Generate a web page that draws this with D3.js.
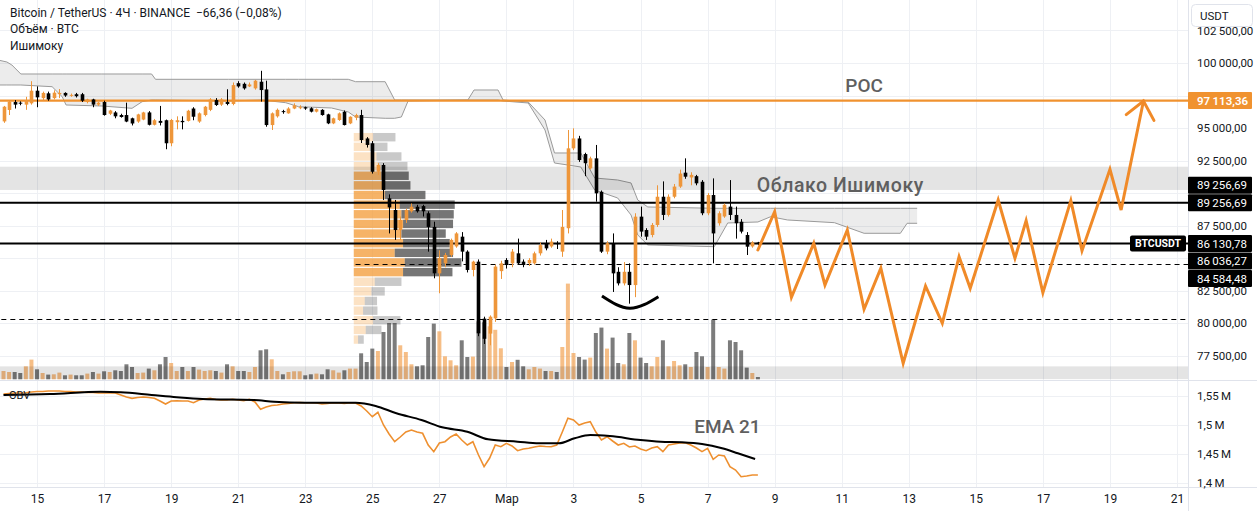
<!DOCTYPE html>
<html>
<head>
<meta charset="utf-8">
<script src="https://cdn.jsdelivr.net/npm/d3@7/dist/d3.min.js"></script>
<style>
html,body{margin:0;padding:0;background:#ffffff;overflow:hidden;}
svg{display:block;font-family:Roboto,"Noto Sans",sans-serif;}
text{white-space:pre;}
</style>
</head>
<body>
<svg id="chart" width="1257" height="511"></svg>
<script>
// ---------------- DATA ----------------
const opens=[95510,96390,97000,96950,96800,96900,97870,97300,97670,97300,
97600,97700,97500,97600,97600,97000,97200,96800,97000,96100,
96200,96000,96000,95750,95500,95650,96200,95250,95550,95600,
93830,95450,95550,95550,96500,95500,96000,96400,97150,96800,
97000,96850,98450,98400,98200,98050,98560,97970,95230,95900,
96300,96130,96500,96550,96600,96520,96260,96400,96050,95360,
95620,96250,95360,95800,96000,94200,93830,91640,92160,89600,
88700,87160,87930,88600,88950,89000,88450,87400,83830,84600,
85240,85900,86650,85500,84090,84730,80350,79200,80370,84000,
84860,84600,85370,84730,84600,84600,85370,86150,85900,86150,
85500,87300,93440,94200,93000,91900,92670,90100,85500,86150,
83950,83060,83950,82930,88190,87160,86780,87550,89720,88320,
89720,90500,91570,91200,91300,90870,88450,89850,87680,88200,
88960,88320,87800,86780,85900,86200];
const highs=[96700,97100,97150,97050,97400,98600,98200,97800,97800,97900,
98000,97750,97650,97700,97700,97250,97250,97000,97100,96400,
96300,96100,96950,95800,96100,96250,96300,95700,96700,95650,
95700,95900,95900,96400,96600,96200,96700,97300,97300,97300,
97980,98500,98600,98500,98500,98700,99400,98640,96200,96500,
96400,96600,96900,96750,96650,96600,96500,96450,96100,95800,
96200,96350,95900,96100,96400,94300,94000,92300,92300,89900,
89470,88200,88800,89200,89100,89100,88600,87800,85600,85400,
86500,87000,87000,85600,84800,84900,80500,80600,84500,84800,
85000,85700,86500,84900,85000,85500,86200,86400,86500,86300,
88700,94850,94980,94400,93100,92800,93700,90200,86300,86900,
84300,84700,84600,88450,88960,87300,87700,90600,90900,89900,
90700,91800,92670,91600,91400,91000,90000,91130,88600,89200,
91000,88960,88000,87000,86300,86250];
const lows=[95400,96000,96500,96750,96400,96800,96600,97100,97100,97200,
97300,97400,97400,97350,97000,96900,96600,96700,95950,96000,
95750,95800,95450,95200,95400,95600,95200,95200,95200,93370,
93600,94900,94900,95500,95600,95400,95900,96300,96700,96700,
96750,96750,98100,97950,98150,97950,97030,95100,94850,95800,
96100,96100,96450,96450,96400,96200,96200,95950,95300,95300,
95550,95200,95300,95600,93850,93500,91500,91400,89470,86900,
86400,86400,87700,88500,88500,88200,85500,83450,82300,84300,
85100,85800,84750,83900,83600,79000,78400,78300,80100,83400,
84200,84300,84500,84300,84400,84500,85200,85600,85800,85700,
85100,86900,93300,92400,91300,91800,89340,85400,85300,82400,
82900,82900,81500,82000,86650,86400,86600,87400,87930,88200,
89600,90400,91100,90600,90600,88300,88300,84600,87500,88100,
87930,86500,86900,85240,85800,86000];
const closes=[96640,97030,96800,96900,97150,97870,97360,97700,97200,97720,
97700,97500,97550,97450,97100,97200,96800,96950,96000,96350,
95900,95850,95500,95350,96050,96200,95250,95600,95400,93830,
95620,95600,95450,96330,95870,96130,96640,97200,96770,97200,
96850,98300,98200,98050,98350,98640,97920,95230,96130,96400,
96250,96500,96750,96600,96500,96260,96450,96000,95360,95750,
96130,95230,95870,96000,94080,93700,91640,92160,90240,88900,
87160,87930,88700,88950,88600,88600,87400,83830,85000,85240,
86400,86900,85500,84090,84730,79220,78800,80500,84350,84600,
84470,85500,84600,84470,84860,85370,86000,85750,86270,86100,
87400,93440,94200,92540,92300,92670,89980,85500,86150,83830,
83060,83950,82930,88190,87040,86650,87550,89720,88320,89720,
90500,91500,91260,91400,90750,88450,89850,86900,88450,89100,
88320,87680,87040,85880,86200,86130];
const volumes=[1660,1460,1460,1260,2600,3940,2000,1260,940,1000,
1340,800,940,800,800,1140,1460,1140,1600,1460,
1800,1660,3000,2460,1260,1340,2140,1800,3000,4460,
3260,1660,2460,1660,2460,1940,1660,1800,1660,1340,
3000,2600,1660,1660,1460,2460,5800,6000,4000,1660,
1000,1460,1600,1600,800,1000,1140,1000,2000,1800,
1340,1800,2140,2140,5200,3460,6140,5660,9460,11260,
11260,6800,5460,3000,2600,2800,8460,11140,9600,4600,
3800,2800,7800,4460,4540,11600,11400,10600,9900,6200,
2460,3460,3900,2600,2000,2460,2140,1660,1660,1460,
6460,19140,5260,4460,3940,4340,9260,10340,6140,8340,
3260,3000,9260,7800,4340,3260,2600,4460,7800,2600,
3660,2800,3000,2460,5460,4600,2460,11940,2460,2140,
7800,7460,5800,2340,1260,460];
// On-balance volume, millions
const obv=[1.5534,1.5543,1.5552,1.5552,1.5557,1.5569,1.5578,1.5578,1.5586,1.5586,
1.5586,1.5578,1.5578,1.5569,1.5569,1.5560,1.5560,1.5552,1.5552,1.5552,
1.5552,1.5517,1.5483,1.5460,1.5474,1.5483,1.5474,1.5460,1.5414,1.5362,
1.5414,1.5419,1.5414,1.5414,1.5384,1.5431,1.5448,1.5460,1.5440,1.5431,
1.5431,1.5443,1.5431,1.5419,1.5443,1.5397,1.5271,1.5310,1.5336,1.5345,
1.5362,1.5371,1.5384,1.5388,1.5384,1.5384,1.5379,1.5362,1.5371,1.5384,
1.5379,1.5371,1.5384,1.5379,1.5328,1.5241,1.5143,1.5219,1.5000,1.4845,
1.4712,1.4793,1.4879,1.4914,1.4879,1.4857,1.4655,1.4540,1.4690,1.4712,
1.4793,1.4845,1.4741,1.4655,1.4712,1.4483,1.4281,1.4431,1.4655,1.4626,
1.4684,1.4638,1.4557,1.4586,1.4598,1.4621,1.4638,1.4629,1.4626,1.4655,
1.4879,1.5116,1.5086,1.5000,1.5034,1.5057,1.4879,1.4741,1.4798,1.4724,
1.4655,1.4684,1.4621,1.4638,1.4586,1.4557,1.4603,1.4626,1.4540,1.4655,
1.4672,1.4690,1.4695,1.4655,1.4603,1.4540,1.4598,1.4409,1.4483,1.4466,
1.4281,1.4224,1.4109,1.4121,1.4138,1.4138];
// EMA 21 of OBV (read at its vertices)
const emaIdx=[0,8.3,17.4,21,26.5,31,35.6,44.8,48.4,53.9,63,66.6,70.3,74.8,78.5,83,86.7,92,95.8,99.4,102.2,105,108.5,114,117.6,121.4,125,128.6,131.4,134.5];
const emaVal=[1.5517,1.5534,1.5574,1.5564,1.5517,1.5478,1.5448,1.5431,1.5402,1.5384,1.5384,1.5328,1.5202,1.5086,1.4960,1.4884,1.4753,1.4712,1.4684,1.4684,1.4771,1.4828,1.4810,1.4741,1.4712,1.4702,1.4672,1.4598,1.4512,1.4414];
// Ichimoku cloud boundaries
const cloudIdx=[-1,0.6,1.5,3.1,8.7,10.5,11.2,17.6,23,24.8,26.5,27.2,40.3,46.2,50.5,52.8,58.7,61.7,63,68.3,70,71.2,72.4,83.1,84.2,88.5,89.4,93.9,96.9,98.6,103.3,105.8,109.9,112.3,113.5,115.3,127.2,129.6,135,137.3,140.3,148.7,154,160.5,161.7,163.5];
const cloudTop=[100231,100077,99846,99155,99155,99155,99155,99155,99155,99155,99155,98747,98747,98747,98747,98747,98747,98747,98563,98563,97156,97156,97156,97156,97925,97925,97156,97002,95619,93083,93083,91161,91007,90777,89470,88932,88832,88832,88832,88832,88832,88832,88832,88832,88832,88832];
const cloudBot=[98309,98309,98309,98309,98178,97410,96772,96695,96518,97026,97156,97156,97079,97156,96949,96641,96541,96234,95850,95750,95750,95850,97079,97156,97156,97156,97079,96926,94850,92314,92007,90239,89624,88317,86780,86011,85881,87702,87779,88186,87933,87725,86910,86910,87679,87679];
// Fixed-range volume profile (top row first)
const profileUp=[3860,3200,4540,4800,5540,5800,6200,9200,9540,9860,9540,9860,8200,10200,9860,4200,3540,2200,1860,3860,2400,860];
const profileDown=[4480,3540,5000,5940,5460,5540,8140,11000,10460,10000,8860,9340,11660,11340,9880,5340,2660,2460,2880,5480,3140,1140];
const profileHigh=94620, profileLow=78325, profileStartIdx=63;
const valueAreaRows=[4,14];
// Drawn levels
const pocPrice=97113.36;
const solidLevels=[89256.69,86130.78];
const dashedLevels=[84584.48,80300];
const dashedStartIdx=[63,-2];
const bandRanges=[[90240,92030],[75700,76680]];
// Projection path and arc
const projIdx=[135,138,141,145,147,151,154,157,161,165,168,171,173,178,181,183,186,191,193,198,200,204];
const projPrice=[85627,88571,81992,86142,82937,87164,81069,84220,76919,82860,79993,85112,82683,89470,84989,87879,82345,89416,85573,91830,88701,97079];
const arcIdx=[107.1,112.1,117.2];
const arcPrice=[82090,81146,82038];
// Axis ticks
const priceTicks=[77500,80000,82500,85000,87500,90000,92500,95000,97500,100000,102500];
const obvTicks=[1.40,1.45,1.50,1.55];
const timeTickDates=["2025-02-15","2025-02-17","2025-02-19","2025-02-21","2025-02-23","2025-02-25","2025-02-27","2025-03-01","2025-03-03","2025-03-05","2025-03-07","2025-03-09","2025-03-11","2025-03-13","2025-03-15","2025-03-17","2025-03-19","2025-03-21"];
const timeTickLabels=["15","17","19","21","23","25","27","Мар","3","5","7","9","11","13","15","17","19","21"];
// Price scale labels
const priceLabels=[
 {price:97113.36,kind:"poc"},
 {price:89256.69,kind:"level"},
 {price:89256.69,kind:"level"},
 {price:86130.78,kind:"last"},
 {price:86036.27,kind:"level"},
 {price:84584.48,kind:"level"}];
const headerLines=["Bitcoin / TetherUS · 4Ч · BINANCE  −66,36 (−0,08%)","Объём · BTC","Ишимоку"];
const notes=[{text:"POC",idx:154,price:97770},{text:"Облако Ишимоку",idx:134.8,price:90085}];
const emaNote={text:"EMA 21",idx:123.6,value:1.4862};

// ---------------- CHART ----------------
const svg=d3.select("#chart");
const PW=1188;
const ORANGE="#EE963A", DARK="#131722";
const noteStyle=[{anchor:"middle",size:19,spacing:0},{anchor:"start",size:19.5,spacing:0.55}];
const T0=Date.UTC(2025,1,14), H4=4*3600*1000;
const tAt=i=>new Date(T0+i*H4);
const x=d3.scaleUtc().domain([new Date(Date.UTC(2025,1,14)),new Date(Date.UTC(2025,2,21))]).range([3.5,1177]);
const xi=i=>x(tAt(i));
const y=d3.scaleLinear().domain([77500,100000]).range([355.7,63]);
const yVol=d3.scaleLinear().domain([0,20000]).range([379.3,279.3]);
const yObv=d3.scaleLinear().domain([1.40,1.55]).range([483,396]);
const xProf=d3.scaleLinear().domain([0,22000]).range([0,110]);
const loc=d3.formatLocale({decimal:",",thousands:"\u2009",grouping:[3],currency:["",""]});
const fmtP=loc.format(",.2f");
const parse=d3.utcParse("%Y-%m-%d");
const tickDates=timeTickDates.map(parse);

const defs=svg.append("defs");
defs.append("clipPath").attr("id","cMain").append("rect").attr("x",0).attr("y",0).attr("width",PW).attr("height",380);
defs.append("clipPath").attr("id","cObv").append("rect").attr("x",0).attr("y",381).attr("width",PW).attr("height",106);

// grid
const grid=svg.append("g");
grid.selectAll("line.v").data(tickDates).join("line").attr("class","v")
 .attr("x1",d=>Math.round(x(d))+0.5).attr("x2",d=>Math.round(x(d))+0.5).attr("y1",0).attr("y2",487)
 .attr("stroke","#eef0f4");
grid.append("g").attr("clip-path","url(#cMain)").selectAll("line").data(priceTicks).join("line")
 .attr("x1",0).attr("x2",PW).attr("y1",d=>Math.round(y(d))+0.5).attr("y2",d=>Math.round(y(d))+0.5).attr("stroke","#eef0f4");
grid.selectAll("line.o").data(obvTicks).join("line").attr("class","o")
 .attr("x1",0).attr("x2",PW).attr("y1",d=>Math.round(yObv(d))+0.5).attr("y2",d=>Math.round(yObv(d))+0.5).attr("stroke","#eef0f4");

const main=svg.append("g").attr("clip-path","url(#cMain)");

// Ichimoku cloud
const cl=d3.range(cloudIdx.length);
main.append("path").datum(cl).attr("fill","rgba(0,0,0,0.075)")
 .attr("d",d3.area().x(i=>xi(cloudIdx[i])).y0(i=>y(cloudBot[i])).y1(i=>y(cloudTop[i])));
main.append("path").datum(cl).attr("fill","none").attr("stroke","#9a9a9a").attr("stroke-width",1)
 .attr("d",d3.line().x(i=>xi(cloudIdx[i])).y(i=>y(cloudTop[i])));
main.append("path").datum(cl).attr("fill","none").attr("stroke","#9a9a9a").attr("stroke-width",1)
 .attr("d",d3.line().x(i=>xi(cloudIdx[i])).y(i=>y(cloudBot[i])));

// volume
const idx=d3.range(opens.length);
main.append("g").selectAll("rect").data(idx).join("rect")
 .attr("x",i=>xi(i)-2).attr("width",4)
 .attr("y",i=>yVol(volumes[i])).attr("height",i=>yVol(0)-yVol(volumes[i]))
 .attr("fill",i=>closes[i]>=opens[i]?"rgba(240,150,60,0.62)":"rgba(50,50,50,0.64)");

// volume profile
const nRows=profileUp.length, step=(profileHigh-profileLow)/nRows;
const px0=xi(profileStartIdx)-1.8;
const prof=main.append("g");
d3.range(nRows).forEach(k=>{
  const inVA=k>=valueAreaRows[0]&&k<=valueAreaRows[1];
  const top=y(profileHigh-k*step), bot=y(profileHigh-(k+1)*step);
  const h=bot-top-1.2;
  prof.append("rect").attr("x",px0).attr("y",top).attr("width",xProf(profileUp[k])).attr("height",h)
   .attr("fill",inVA?"rgba(244,158,60,0.78)":"rgba(244,158,60,0.30)");
  prof.append("rect").attr("x",px0+xProf(profileUp[k])).attr("y",top).attr("width",xProf(profileDown[k])).attr("height",h)
   .attr("fill",inVA?"rgba(60,60,60,0.70)":"rgba(60,60,60,0.28)");
});

// bands
main.append("g").selectAll("rect").data(bandRanges).join("rect")
 .attr("x",0).attr("width",PW).attr("y",d=>y(d[1])).attr("height",d=>y(d[0])-y(d[1]))
 .attr("fill","rgba(0,0,0,0.105)");

// levels
main.append("line").attr("x1",0).attr("x2",PW).attr("y1",y(pocPrice)).attr("y2",y(pocPrice))
 .attr("stroke","#F0922F").attr("stroke-width",2.2);
main.append("g").selectAll("line").data(solidLevels).join("line")
 .attr("x1",0).attr("x2",PW).attr("y1",d=>y(d)).attr("y2",d=>y(d)).attr("stroke","#000").attr("stroke-width",2);
main.append("g").selectAll("line").data(dashedLevels).join("line")
 .attr("x1",(d,i)=>xi(dashedStartIdx[i])).attr("x2",PW).attr("y1",d=>Math.round(y(d))+0.5).attr("y2",d=>Math.round(y(d))+0.5)
 .attr("stroke","#000").attr("stroke-width",1.2).attr("stroke-dasharray","5,4");

// candles
const cg=main.append("g");
cg.selectAll("line").data(idx).join("line")
 .attr("x1",i=>Math.round(xi(i))+0.5).attr("x2",i=>Math.round(xi(i))+0.5)
 .attr("y1",i=>y(highs[i])).attr("y2",i=>y(lows[i]))
 .attr("stroke",i=>closes[i]>=opens[i]?ORANGE:"#000").attr("stroke-width",1);
cg.selectAll("rect").data(idx).join("rect")
 .attr("x",i=>Math.round(xi(i))+0.5-1.8).attr("width",3.6)
 .attr("y",i=>y(Math.max(opens[i],closes[i])))
 .attr("height",i=>Math.max(1,Math.abs(y(opens[i])-y(closes[i]))))
 .attr("fill",i=>closes[i]>=opens[i]?ORANGE:"#000");

// projection path
const pj=d3.range(projIdx.length);
main.append("path").datum(pj).attr("fill","none").attr("stroke","#F08A28").attr("stroke-width",3)
 .attr("stroke-linejoin","miter").attr("stroke-linecap","round")
 .attr("d",d3.line().x(i=>xi(projIdx[i])).y(i=>y(projPrice[i])));
{
  const n=projIdx.length;
  const tx=xi(projIdx[n-1]), ty=y(projPrice[n-1]);
  const fx=xi(projIdx[n-2]), fy=y(projPrice[n-2]);
  const L=Math.hypot(tx-fx,ty-fy), bx=(fx-tx)/L, by=(fy-ty)/L;
  const a=40*Math.PI/180, len=22;
  const r=(s)=>[tx+len*(bx*Math.cos(s*a)-by*Math.sin(s*a)), ty+len*(bx*Math.sin(s*a)+by*Math.cos(s*a))];
  const p1=r(1), p2=r(-1);
  main.append("path").attr("fill","none").attr("stroke","#F08A28").attr("stroke-width",3).attr("stroke-linecap","round")
   .attr("d",`M${p1[0]},${p1[1]}L${tx},${ty}L${p2[0]},${p2[1]}`);
}
// arc
main.append("path").datum(d3.range(arcIdx.length)).attr("fill","none").attr("stroke","#000").attr("stroke-width",3)
 .attr("stroke-linecap","butt")
 .attr("d",d3.line().curve(d3.curveNatural).x(i=>xi(arcIdx[i])).y(i=>y(arcPrice[i])));

// annotations
notes.forEach((n,k)=>{
  main.append("text").attr("x",xi(n.idx)).attr("y",y(n.price)).attr("text-anchor",noteStyle[k].anchor)
   .attr("font-size",noteStyle[k].size).attr("letter-spacing",noteStyle[k].spacing)
   .attr("font-weight",500).attr("fill","#5f5f5f").text(n.text);
});

// OBV pane
const og=svg.append("g").attr("clip-path","url(#cObv)");
og.append("path").datum(idx).attr("fill","none").attr("stroke","#EE9030").attr("stroke-width",1.6)
 .attr("d",d3.line().x(i=>xi(i)).y(i=>yObv(obv[i])));
og.append("path").datum(d3.range(emaIdx.length)).attr("fill","none").attr("stroke","#000").attr("stroke-width",2)
 .attr("d",d3.line().curve(d3.curveMonotoneX).x(i=>xi(emaIdx[i])).y(i=>yObv(emaVal[i])));
og.append("text").attr("x",xi(emaNote.idx)).attr("y",yObv(emaNote.value)).attr("font-size",19).attr("font-weight",500)
 .attr("fill","#5f5f5f").text(emaNote.text);
svg.append("text").attr("x",9).attr("y",399).attr("font-size",11).attr("fill",DARK).text("OBV");

// borders
svg.append("line").attr("x1",PW+0.5).attr("x2",PW+0.5).attr("y1",0).attr("y2",511).attr("stroke","#e0e3eb");
svg.append("line").attr("x1",0).attr("x2",1257).attr("y1",380.5).attr("y2",380.5).attr("stroke","#e0e3eb");
svg.append("line").attr("x1",0).attr("x2",1257).attr("y1",487.5).attr("y2",487.5).attr("stroke","#e0e3eb");

// price labels on scale (stacked around last price)
const lastPrice=priceLabels.find(d=>d.kind==="last").price;
const items=priceLabels.map(d=>({...d,py:y(d.price)}));
{
  const above=items.filter(d=>d.kind!=="last"&&d.price>lastPrice).sort((a,b)=>b.py-a.py);
  const below=items.filter(d=>d.kind!=="last"&&d.price<lastPrice).sort((a,b)=>a.py-b.py);
  const last=items.find(d=>d.kind==="last"); last.ly=last.py;
  let prev=last.ly; above.forEach(d=>{d.ly=Math.min(d.py,prev-17.5);prev=d.ly;});
  prev=last.ly; below.forEach(d=>{d.ly=Math.max(d.py,prev+17.5);prev=d.ly;});
}
// axes (tick labels that sit behind a label box are hidden, as the price scale does)
const hidden=v=>items.some(d=>Math.abs(d.ly-y(v))<11);
const pa=svg.append("g").attr("transform","translate(1197,0)")
 .call(d3.axisRight(y).tickValues(priceTicks.filter(v=>!hidden(v))).tickFormat(fmtP).tickSize(0).tickPadding(0));
pa.select(".domain").remove();
pa.selectAll("text").attr("font-size",11.5).attr("fill",DARK).attr("font-family","Roboto,sans-serif");
const oa=svg.append("g").attr("transform","translate(1197,0)")
 .call(d3.axisRight(yObv).tickValues(obvTicks).tickFormat(d=>String(+d.toFixed(2)).replace(".",",")+"\u2009M").tickSize(0).tickPadding(0));
oa.select(".domain").remove();
oa.selectAll("text").attr("font-size",11.5).attr("fill",DARK).attr("font-family","Roboto,sans-serif");
const ta=svg.append("g").attr("transform","translate(0,494)")
 .call(d3.axisBottom(x).tickValues(tickDates).tickFormat((d,i)=>timeTickLabels[i]).tickSize(0).tickPadding(0));
ta.select(".domain").remove();
ta.selectAll("text").attr("font-size",12).attr("fill",DARK).attr("font-family","Roboto,sans-serif");

{
  const lg=svg.append("g");
  items.forEach(d=>{
    lg.append("rect").attr("x",PW).attr("y",d.ly-8.5).attr("width",64).attr("height",17).attr("rx",1)
     .attr("fill",d.kind==="poc"?"#F0922F":"#000");
    lg.append("text").attr("x",PW+9).attr("y",d.ly+4.2).attr("font-size",11.5).attr("fill","#fff")
     .attr("font-weight",d.kind==="poc"?600:400).text(fmtP(d.price));
  });
  const last=items.find(d=>d.kind==="last");
  lg.append("rect").attr("x",1130).attr("y",last.ly-8).attr("width",56).attr("height",16).attr("rx",2).attr("fill","#000");
  lg.append("text").attr("x",1158).attr("y",last.ly+4).attr("text-anchor","middle").attr("font-size",10.5)
   .attr("font-weight",700).attr("fill","#fff").text("BTCUSDT");
}
// currency box
svg.append("rect").attr("x",1191.5).attr("y",4.5).attr("width",61).attr("height",22).attr("rx",4)
 .attr("fill","#fff").attr("stroke","#e0e3eb");
svg.append("text").attr("x",1200).attr("y",19.5).attr("font-size",11.5).attr("fill",DARK).text("USDT");

// header
svg.append("g").selectAll("text").data(headerLines).join("text")
 .attr("x",10).attr("y",(d,i)=>17+i*16.3).attr("font-size",12).attr("fill",DARK).text(d=>d);
</script>
</body>
</html>
